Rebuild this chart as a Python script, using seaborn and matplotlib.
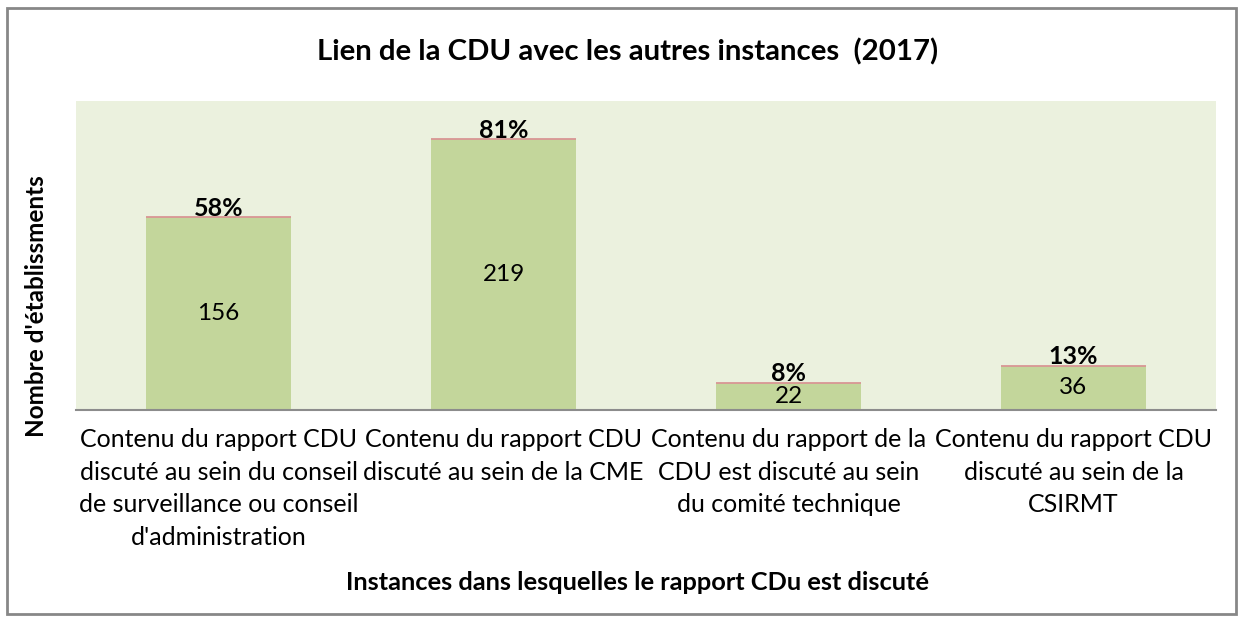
import matplotlib
matplotlib.use("Agg")
import matplotlib.pyplot as plt
import seaborn as sns
import pandas as pd
from matplotlib.patches import Rectangle

categories = [
    "Contenu du rapport CDU\ndiscuté au sein du conseil\nde surveillance ou conseil\nd'administration",
    "Contenu du rapport CDU\ndiscuté au sein de la CME",
    "Contenu du rapport de la\nCDU est discuté au sein\ndu comité technique",
    "Contenu du rapport CDU\ndiscuté au sein de la\nCSIRMT",
]
counts = [156, 219, 22, 36]
percents = ["58%", "81%", "8%", "13%"]

sns.set_theme(style="white")
plt.rcParams['font.family'] = ['Lato', 'DejaVu Sans']
plt.rcParams['text.color'] = 'black'
plt.rcParams['xtick.color'] = 'black'
plt.rcParams['axes.labelcolor'] = 'black'

W, H = 1242, 622
fig = plt.figure(figsize=(W / 100, H / 100), dpi=100)
ax = fig.add_axes([76 / W, 1 - 410 / H, (1216 - 76) / W, (410 - 101) / H])

df = pd.DataFrame({"cat": categories, "n": counts})
sns.barplot(data=df, x="cat", y="n", color="#c3d69b", saturation=1, width=0.51,
            linewidth=0, edgecolor="none", ax=ax)
ax.set_facecolor("#ebf1de")
ax.set_ylim(0, 250)
ax.set_xlim(-0.5, 3.5)
ax.set_yticks([])

for p, n, pct in zip(ax.patches, counts, percents):
    x0 = p.get_x()
    w = p.get_width()
    ax.hlines(n, x0, x0 + w, color="#d99694", lw=1.3, zorder=4)
    ax.text(x0 + w / 2, n / 2, str(n), ha="center", va="center", fontsize=17.5, color="black")
    ax.text(x0 + w / 2, n - 2, pct, ha="center", va="bottom", fontsize=18, fontweight="bold", color="black")

for s in ["top", "right", "left"]:
    ax.spines[s].set_visible(False)
ax.spines["bottom"].set_color("#8c8c8c")
ax.spines["bottom"].set_linewidth(1.5)

ax.tick_params(axis="x", length=0, pad=13, labelsize=18, colors="black")
for lbl in ax.get_xticklabels():
    lbl.set_linespacing(1.5)
    lbl.set_verticalalignment("top")
ax.set_xlabel("")
ax.set_ylabel("")
fig.text(638 / W, 1 - 583 / H, "Instances dans lesquelles le rapport CDu est discuté", ha="center", va="center",
         fontsize=18.3, fontweight="bold")
fig.text(37 / W, 1 - 306 / H, "Nombre d'établissments", rotation=90, ha="center", va="center",
         fontsize=17.5, fontweight="bold")
fig.text(628 / W, 1 - 52 / H, "Lien de la CDU avec les autres instances  (2017)", ha="center", va="center",
         fontsize=21.2, fontweight="bold")

fig.patches.append(Rectangle((7 / W, 8 / H), (1236 - 7) / W, (614 - 8) / H, transform=fig.transFigure,
                             fill=False, edgecolor="#878787", lw=2))

fig.savefig("out.png", dpi=100, facecolor="white")
